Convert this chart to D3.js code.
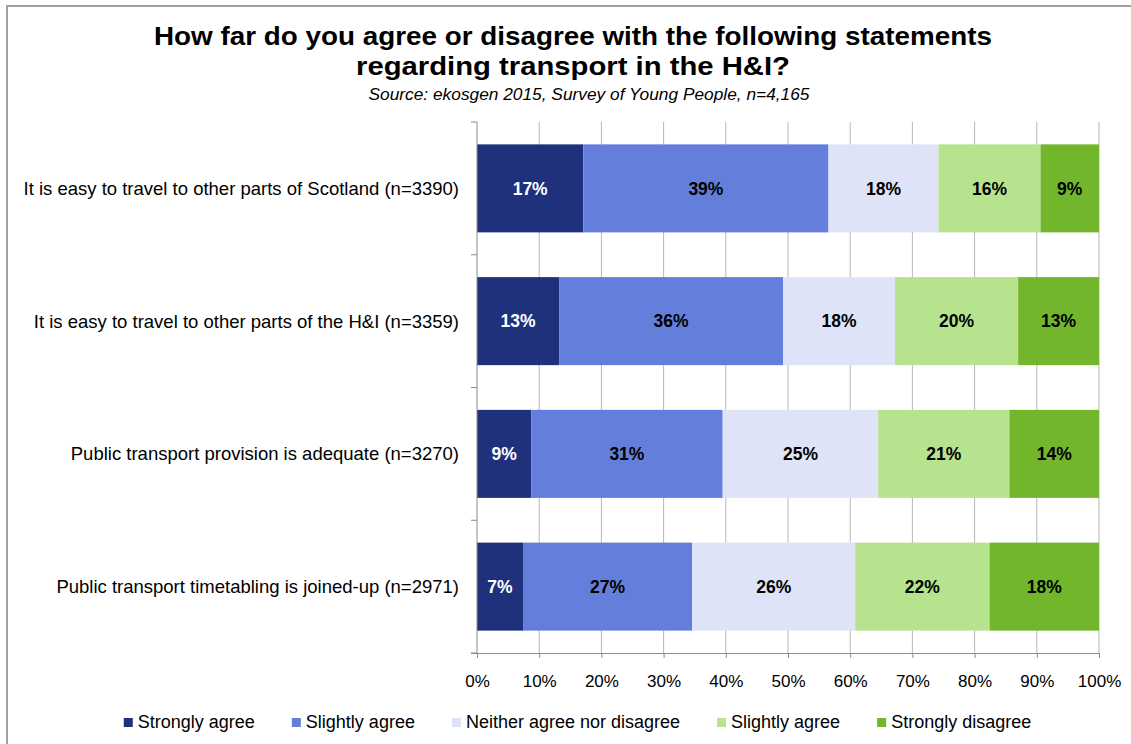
<!DOCTYPE html>
<html>
<head>
<meta charset="utf-8">
<script src="https://cdn.jsdelivr.net/npm/d3@7"></script>
<style>
  html, body { margin: 0; padding: 0; background: #fff; }
  svg { display: block; font-family: "Liberation Sans", Arial, sans-serif; }
</style>
</head>
<body>
<svg id="chart" width="1131" height="744"></svg>
<script>
// Survey statements (one horizontal bar each)
const categories = [
  "It is easy to travel to other parts of Scotland (n=3390)",
  "It is easy to travel to other parts of the H&I (n=3359)",
  "Public transport provision is adequate (n=3270)",
  "Public transport timetabling is joined-up (n=2971)"
];

// Response options, in stacking order
const seriesNames = [
  "Strongly agree",
  "Slightly agree",
  "Neither agree nor disagree",
  "Slightly agree",
  "Strongly disagree"
];

// Share of respondents (%) per statement, one array per response option
const stronglyAgree    = [17.1, 13.2, 8.7, 7.4];
const slightlyAgree    = [39.4, 36.0, 30.8, 27.2];
const neither          = [17.7, 18.0, 25.0, 26.2];
const slightlyDisagree = [16.4, 19.8, 21.1, 21.6];
const stronglyDisagree = [9.4, 13.0, 14.4, 17.6];

const seriesColors = ["#1f317d", "#647fdb", "#dfe3f7", "#b8e38e", "#72b62c"];
const labelColors  = ["#ffffff", "#000000", "#000000", "#000000", "#000000"];

const xTicks = [0, 10, 20, 30, 40, 50, 60, 70, 80, 90, 100];

const titleLines = [
  "How far do you agree or disagree with the following statements",
  "regarding transport in the H&I?"
];
const subtitle = "Source: ekosgen 2015, Survey of Young People, n=4,165";

const seriesValues = [stronglyAgree, slightlyAgree, neither, slightlyDisagree, stronglyDisagree];

// Table for d3.stack: one row per statement
const keys = seriesNames.map((_, i) => "s" + i);
const rows = categories.map((c, ci) => {
  const r = { category: c };
  keys.forEach((k, si) => { r[k] = seriesValues[si][ci]; });
  return r;
});
const stacked = d3.stack().keys(keys)(rows);

const svg = d3.select("#chart");

// Outer frame
svg.append("rect")
  .attr("x", 7).attr("y", 6)
  .attr("width", 1140).attr("height", 760)
  .attr("fill", "none")
  .attr("stroke", "#a0a0a0")
  .attr("stroke-width", 2);

// Title and source line
const title = svg.append("g").attr("text-anchor", "middle");
titleLines.forEach((t, i) => {
  title.append("text")
    .attr("x", 573).attr("y", 45 + i * 30)
    .attr("font-size", 26).attr("font-weight", "bold")
    .attr("fill", "#000")
    .attr("textLength", i === 0 ? 838 : 434)
    .attr("lengthAdjust", "spacingAndGlyphs")
    .text(t);
});
title.append("text")
  .attr("x", 589).attr("y", 100)
  .attr("font-size", 16.5).attr("font-style", "italic")
  .attr("fill", "#000")
  .attr("textLength", 441)
  .attr("lengthAdjust", "spacingAndGlyphs")
  .text(subtitle);

// Plot area
const plot = { left: 477, right: 1099, top: 122, bottom: 653 };

const x = d3.scaleLinear().domain([0, 100]).range([plot.left, plot.right]);
const y = d3.scaleBand()
  .domain(categories)
  .range([plot.top, plot.bottom])
  .paddingInner(0.337)
  .paddingOuter(0.1685);

// Vertical gridlines
svg.append("g")
  .selectAll("line")
  .data(xTicks.slice(1))
  .join("line")
  .attr("x1", d => x(d)).attr("x2", d => x(d))
  .attr("y1", plot.top).attr("y2", plot.bottom)
  .attr("stroke", "#b8b8b8").attr("stroke-width", 1);

// Bars
const layers = svg.append("g")
  .selectAll("g")
  .data(stacked)
  .join("g")
  .attr("fill", (d, i) => seriesColors[i]);

layers.selectAll("rect")
  .data(d => d.map(p => ({ p, cat: p.data.category })))
  .join("rect")
  .attr("x", d => x(d.p[0]))
  .attr("y", d => y(d.cat))
  .attr("width", d => x(d.p[1]) - x(d.p[0]))
  .attr("height", y.bandwidth());

// Value labels
layers.each(function (layer, si) {
  d3.select(this).selectAll("text")
    .data(layer)
    .join("text")
    .attr("x", p => (x(p[0]) + x(p[1])) / 2)
    .attr("y", p => y(p.data.category) + y.bandwidth() / 2)
    .attr("dy", "0.35em")
    .attr("text-anchor", "middle")
    .attr("font-size", 17.5)
    .attr("font-weight", "bold")
    .attr("fill", labelColors[si])
    .text(p => Math.round(p[1] - p[0]) + "%");
});

// Bottom axis
const xAxis = svg.append("g")
  .attr("transform", `translate(0,${plot.bottom})`)
  .call(d3.axisBottom(x).tickValues(xTicks).tickSize(5).tickPadding(17).tickFormat(d => d + "%"));
xAxis.select(".domain").attr("stroke", "#8c8c8c").attr("d", `M${plot.left - 6},0.5H${plot.right}`);
xAxis.selectAll(".tick line").attr("stroke", "#8c8c8c");
xAxis.selectAll(".tick text")
  .attr("font-size", 17).attr("fill", "#000")
  .attr("font-family", "Liberation Sans, Arial, sans-serif");

// Left axis with ticks at category boundaries
const leftAxis = svg.append("g");
leftAxis.append("line")
  .attr("x1", plot.left).attr("x2", plot.left)
  .attr("y1", plot.top).attr("y2", plot.bottom)
  .attr("stroke", "#8c8c8c");
const step = y.step();
leftAxis.selectAll("line.tk")
  .data(d3.range(categories.length + 1))
  .join("line")
  .attr("class", "tk")
  .attr("x1", plot.left - 6).attr("x2", plot.left)
  .attr("y1", i => plot.top + i * step)
  .attr("y2", i => plot.top + i * step)
  .attr("stroke", "#8c8c8c");

// Category labels
svg.append("g")
  .selectAll("text")
  .data(categories)
  .join("text")
  .attr("x", plot.left - 18)
  .attr("y", d => y(d) + y.bandwidth() / 2)
  .attr("dy", "0.35em")
  .attr("text-anchor", "end")
  .attr("font-size", 18.5)
  .attr("fill", "#000")
  .text(d => d);

// Legend, centred below the axis
const legend = svg.append("g");
const items = legend.selectAll("g")
  .data(seriesNames)
  .join("g");
items.append("rect")
  .attr("width", 9).attr("height", 9)
  .attr("y", -10)
  .attr("fill", (d, i) => seriesColors[i]);
items.append("text")
  .attr("x", 14)
  .attr("font-size", 18)
  .attr("fill", "#000")
  .text(d => d);

const gap = 37;
let cursor = 0;
const offsets = [];
items.each(function () {
  const w = 14 + this.querySelector("text").getComputedTextLength();
  offsets.push(cursor);
  cursor += w + gap;
});
const totalW = cursor - gap;
const legendStart = 577.5 - totalW / 2;
items.attr("transform", (d, i) => `translate(${legendStart + offsets[i]},728)`);
</script>
</body>
</html>
